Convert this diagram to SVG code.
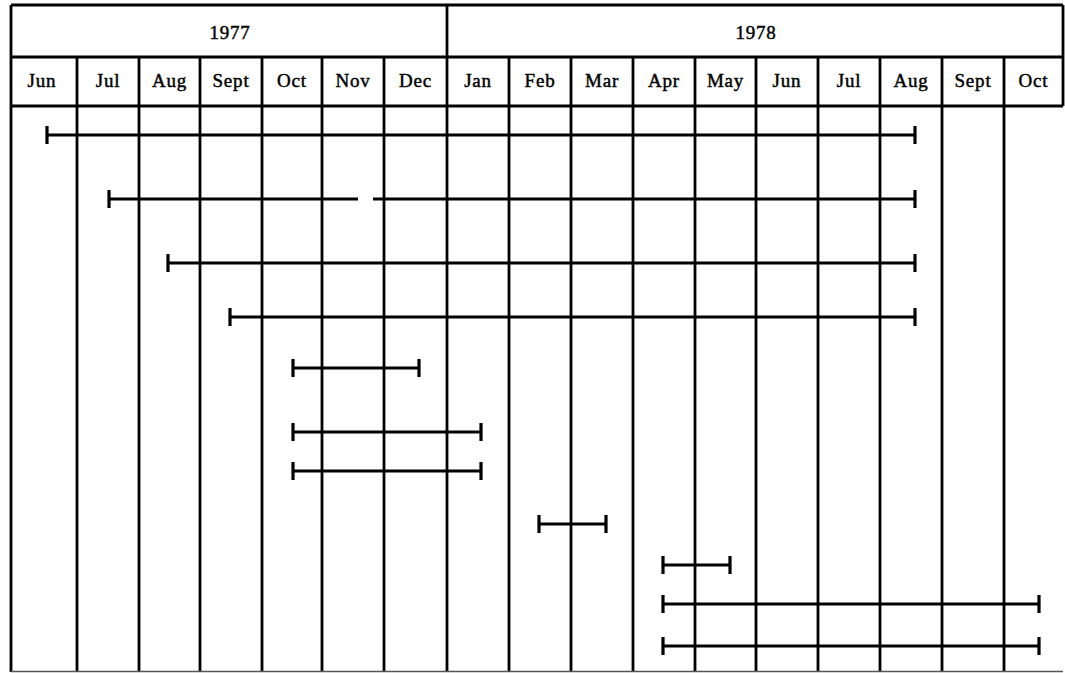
<svg xmlns="http://www.w3.org/2000/svg" width="1065" height="673" viewBox="0 0 1065 673">
<style>
.g{stroke:#000;stroke-width:2.8;fill:none}
.b{stroke:#000;stroke-width:3.2;fill:none}
.c{stroke:#000;stroke-width:3.2;fill:none}
.t{font-family:"Liberation Serif",serif;font-size:19px;fill:#000;stroke:#000;stroke-width:0.45;text-anchor:middle;letter-spacing:0.8px}
</style>
<rect width="1065" height="673" fill="#fff"/>
<g id="grid">
<path class="g" d="M11 5H1063M11 57H1063M11 106H1063M11 5V672M1063 5V106M447 5V672"/>
<path class="g" d="M77 57V672M139 57V672M200 57V672M262 57V672M322 57V672M384 57V672M509 57V672M571 57V672M633 57V672M695 57V672M756 57V672M818 57V672M880 57V672M942 57V672M1004 57V672"/>
<path d="M11 671.5H1063" stroke="#555" stroke-width="1.5"/>
</g>
<g id="years">
<text class="t" x="230" y="39">1977</text>
<text class="t" x="756" y="39">1978</text>
</g>
<g id="months">
<text class="t" x="42" y="87">Jun</text>
<text class="t" x="108" y="87">Jul</text>
<text class="t" x="169.5" y="87">Aug</text>
<text class="t" x="231" y="87">Sept</text>
<text class="t" x="292" y="87">Oct</text>
<text class="t" x="353" y="87">Nov</text>
<text class="t" x="415.5" y="87">Dec</text>
<text class="t" x="478" y="87">Jan</text>
<text class="t" x="540" y="87">Feb</text>
<text class="t" x="602" y="87">Mar</text>
<text class="t" x="664" y="87">Apr</text>
<text class="t" x="725.5" y="87">May</text>
<text class="t" x="787" y="87">Jun</text>
<text class="t" x="849" y="87">Jul</text>
<text class="t" x="911" y="87">Aug</text>
<text class="t" x="973" y="87">Sept</text>
<text class="t" x="1033.5" y="87">Oct</text>
</g>
<g id="bars">
<g id="bar1"><path class="b" d="M47 135H915"/><path class="c" d="M47 126V144M915 126V144"/></g>
<g id="bar2"><path class="b" d="M109 199H358M373 199H915"/><path class="c" d="M109 190V208M915 190V208"/></g>
<g id="bar3"><path class="b" d="M168 263H915"/><path class="c" d="M168 254V272M915 254V272"/></g>
<g id="bar4"><path class="b" d="M230 317H915"/><path class="c" d="M230 308V326M915 308V326"/></g>
<g id="bar5"><path class="b" d="M293 368H419"/><path class="c" d="M293 359V377M419 359V377"/></g>
<g id="bar6"><path class="b" d="M293 432H481"/><path class="c" d="M293 423V441M481 423V441"/></g>
<g id="bar7"><path class="b" d="M293 471H481"/><path class="c" d="M293 462V480M481 462V480"/></g>
<g id="bar8"><path class="b" d="M539 524H606"/><path class="c" d="M539 515V533M606 515V533"/></g>
<g id="bar9"><path class="b" d="M663 565H730"/><path class="c" d="M663 556V574M730 556V574"/></g>
<g id="bar10"><path class="b" d="M663 604H1039"/><path class="c" d="M663 595V613M1039 595V613"/></g>
<g id="bar11"><path class="b" d="M663 646H1039"/><path class="c" d="M663 637V655M1039 637V655"/></g>
</g>
</svg>
